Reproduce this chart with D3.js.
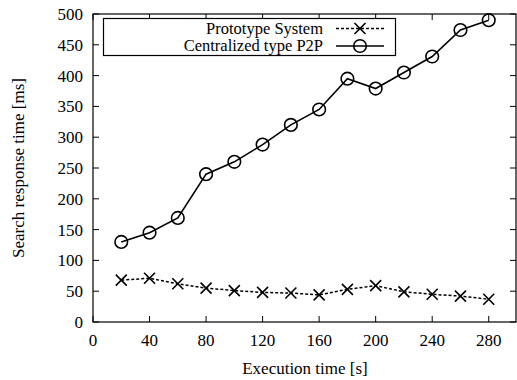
<!DOCTYPE html>
<html><head><meta charset="utf-8"><script src="https://cdn.jsdelivr.net/npm/d3@7"></script></head><body style="margin:0;background:#fff">
<div><svg id="c" width="517" height="380" style="display:block"></svg></div>
<script>
const times = [20,40,60,80,100,120,140,160,180,200,220,240,260,280];
const prototype = [68,71,62,55,51,48,47,44,53,59,49,45,42,37];
const centralized = [130,145,169,240,260,288,320,345,395,379,405,431,474,490];
const xTicks = [0,40,80,120,160,200,240,280];
const yTicks = [0,50,100,150,200,250,300,350,400,450,500];
const seriesNames = ["Prototype System","Centralized type P2P"];

const svg = d3.select("#c");
const L=93,R=516,T=14,B=322;
const x = d3.scaleLinear().domain([0,300]).range([L,R+1]);
const y = d3.scaleLinear().domain([0,500]).range([B,T]);
const fs = 17;
function txt(g){return g.append("text").attr("font-family","Liberation Serif");}

svg.append("rect").attr("x",L).attr("y",T).attr("width",R-L).attr("height",B-T)
  .attr("fill","none").attr("stroke","#000").attr("stroke-width",1.2);

const tl=6;
xTicks.forEach(v=>{
  svg.append("line").attr("x1",x(v)).attr("x2",x(v)).attr("y1",B).attr("y2",B-tl).attr("stroke","#000");
  svg.append("line").attr("x1",x(v)).attr("x2",x(v)).attr("y1",T).attr("y2",T+tl).attr("stroke","#000");
  txt(svg).attr("x",x(v)).attr("y",B+24).attr("text-anchor","middle").attr("font-size",fs).text(v);
});
yTicks.forEach(v=>{
  svg.append("line").attr("x1",L).attr("x2",L+tl).attr("y1",y(v)).attr("y2",y(v)).attr("stroke","#000");
  svg.append("line").attr("x1",R).attr("x2",R-tl).attr("y1",y(v)).attr("y2",y(v)).attr("stroke","#000");
  txt(svg).attr("x",L-10).attr("y",y(v)+6).attr("text-anchor","end").attr("font-size",fs).text(v);
});

txt(svg).attr("x",305).attr("y",374).attr("text-anchor","middle").attr("font-size",fs).text("Execution time [s]");
txt(svg).attr("transform","translate(24,168) rotate(-90)").attr("text-anchor","middle").attr("font-size",fs).text("Search response time [ms]");

const line = d3.line().x((d,i)=>x(times[i])).y(d=>y(d));
function drawX(g,cx,cy){const s=5.5;
  g.append("path").attr("d",`M${cx-s},${cy-s}L${cx+s},${cy+s}M${cx-s},${cy+s}L${cx+s},${cy-s}`).attr("stroke","#000").attr("stroke-width",1.6);}
function drawO(g,cx,cy){g.append("circle").attr("cx",cx).attr("cy",cy).attr("r",6.3).attr("fill","none").attr("stroke","#000").attr("stroke-width",1.6);}

svg.append("path").datum(prototype).attr("d",line).attr("fill","none").attr("stroke","#000").attr("stroke-width",1.5).attr("stroke-dasharray","3,2");
prototype.forEach((v,i)=>drawX(svg,x(times[i]),y(v)));
svg.append("path").datum(centralized).attr("d",line).attr("fill","none").attr("stroke","#000").attr("stroke-width",1.6);
centralized.forEach((v,i)=>drawO(svg,x(times[i]),y(v)));

const lg = svg.append("g");
lg.append("rect").attr("x",103.5).attr("y",18.5).attr("width",292).attr("height",37).attr("fill","#fff").attr("stroke","#000").attr("stroke-width",1.2);
[0,1].forEach(i=>{
  const yy = 28.5+i*17.5;
  txt(lg).attr("x",323).attr("y",yy+5).attr("text-anchor","end").attr("font-size",16.5).text(seriesNames[i]);
  lg.append("line").attr("x1",336).attr("x2",384).attr("y1",yy).attr("y2",yy).attr("stroke","#000").attr("stroke-width",1.5).attr("stroke-dasharray",i===0?"3,2":null);
  if(i===0) drawX(lg,360,yy); else drawO(lg,360,yy);
});
</script></body></html>
